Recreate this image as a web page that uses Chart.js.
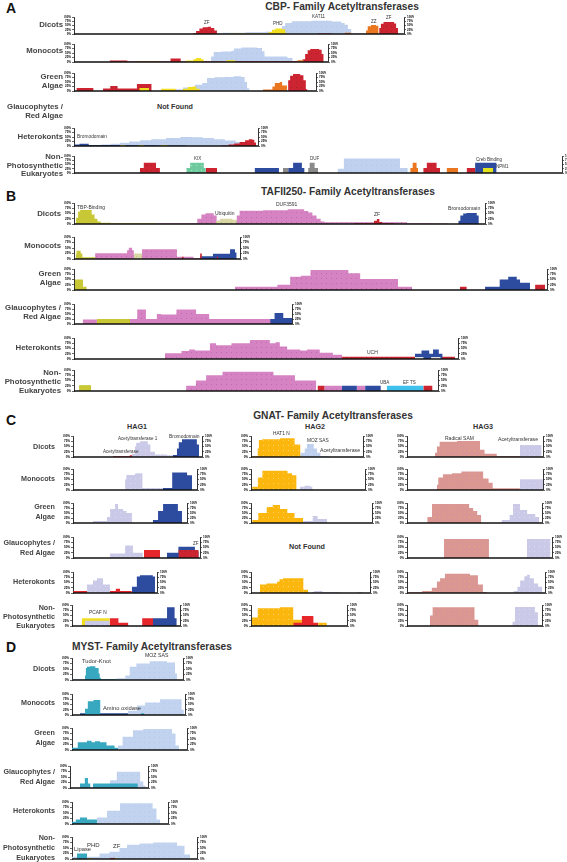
<!DOCTYPE html>
<html>
<head>
<meta charset="utf-8">
<script src="https://cdn.jsdelivr.net/npm/chart.js@4.4.1/dist/chart.umd.min.js"></script>
<style>
  body { margin: 0; background: #fff; font-family: "Liberation Sans", Arial, sans-serif; }
  #page { position: relative; width: 567px; height: 862px; overflow: hidden; }
  #page canvas { position: absolute; }
  .t { position: absolute; white-space: nowrap; line-height: 1; }
  .letter { font-size: 14px; font-weight: bold; color: #111; }
  .title { font-size: 10.2px; font-weight: bold; color: #333; }
  .sub { font-size: 7.2px; font-weight: bold; color: #333; }
  .row { font-weight: bold; color: #444; }
  .dom { color: #333; }
  .nf { font-size: 7.2px; font-weight: bold; color: #333; }
</style>
</head>
<body>
<div id="page"></div>
<script>
// categories (row labels)
const ROWS = ['Dicots', 'Monocots', 'Green|Algae', 'Glaucophytes /|Red Algae', 'Heterokonts', 'Non-|Photosynthetic|Eukaryotes'];
const Y_TICKS = [0, 25, 50, 75, 100];

// each series: [x0, y0, x1, y1, ..., xn]  (x = % of protein length, y = % coverage)
// ---- A: CBP ----
const aDicots = {
  hat: [38,5, 45,8, 52,10, 58,13, 62,20, 63,45, 64,65, 66,75, 72,78, 78,74, 81,65, 82,55, 83,30, 84,5, 89,3, 96],
  zf:  [36,5, 37,18, 38,32, 39,40, 40.5,42, 41.5,35, 42.5,20, 43.3,0, 74,3, 78,0, 92.5,35, 93,60, 93.8,70, 97,62, 97.6,35, 98.2],
  phd: [47,3, 58,3, 59,12, 60,25, 61,33, 63,28, 64,8, 64.5],
  zz:  [82,8, 84,0, 88.5,20, 89,45, 90,53, 91.5,48, 92.3]
};
const aMono = {
  hat: [0,3, 50,5, 54,30, 55,55, 58,58, 62,62, 63,75, 66,80, 72,78, 74,60, 75,30, 84,22, 86,5, 90,3, 98],
  zf:  [14,8, 21,3, 38,20, 42,3, 60,4, 90,15, 91,45, 92,65, 93,72, 96.5,68, 97.5,45, 98.3],
  zz:  [24,3, 34,0, 88,10, 90.5],
  phd: [44,8, 47,15, 48,22, 50,15, 51,0, 60,10, 63.5]
};
const aGreen = {
  hat: [38,10, 45,20, 50,35, 53,45, 55,72, 58,76, 62,78, 66,82, 69,78, 70.5,50, 71.5,15, 72.5],
  zf:  [1,17, 8,0, 12,14, 15,28, 18,14, 26,39, 32,0, 88.5,60, 89.3,85, 90.5,95, 93.5,88, 94.8,60, 95.8,10, 96.5],
  zz:  [78,8, 82,25, 83,45, 85,50, 86,30, 88],
  phd: [27,17, 31,0, 36,12, 42,0, 45,12, 47,22, 49,25, 50.5,12, 52]
};
const aHetero = {
  hat:   [2,5, 10,6, 15,8, 20,12, 25,18, 30,25, 36,32, 42,38, 50,45, 58,50, 64,48, 70,45, 76,38, 82,30, 88,22, 93,15, 97,8, 99],
  bromo: [0,8, 3,13, 8,6, 15,5, 30,4, 45,3, 61],
  phd:   [25,5, 28,0, 35,5, 38,0, 47,6, 51],
  zf:    [80,3, 84,8, 87,14, 90,22, 93,32, 95,38, 97,35, 98,20, 99]
};
const aNonPhoto = {
  hat:   [54,25, 55.3,85, 66.8,30, 68.4],
  zf:    [13.5,30, 14.3,60, 16.8,30, 17.6,0, 27,30, 29.3,0, 71.6,30, 72.3,60, 74.3,30, 75,0, 80.5,30, 82.2],
  kix:   [23,30, 23.8,60, 26.6,30, 27],
  bromo: [37,30, 42,0, 43.9,30, 44.9,60, 46.7,30, 47.2,0, 82.2,60, 86.6],
  duf:   [42.8,30, 43.9,0, 48,30, 48.3,60, 49.3,30, 50],
  zz:    [68.9,30, 69.4,60, 70.2,30, 70.5,0, 76.4,30, 78.7],
  npm:   [83.8,30, 85.9]
};
// ---- B: TAFII250 ----
const bDicots = {
  pink:  [8,3, 30,25, 31,45, 32,51, 34,40, 34.7,15, 39.6,40, 40.3,63, 46,66, 52,70, 56,62, 57,55, 58,40, 59,25, 60,12, 61,8, 81,4, 87,2, 91],
  tbp:   [0.5,30, 1,60, 1.5,67, 4.3,45, 5,25, 5.7,12, 6.5,6, 9,3, 20],
  ubq:   [34.5,15, 35.5,25, 38.5,20, 39.6],
  zf:    [68,4, 73,15, 73.7,24, 74.3,10, 75,4, 78],
  bromo: [93.5,15, 94,40, 94.7,50, 95.5,52, 98,40, 98.5]
};
const bMono = {
  pink:  [12.7,26, 32,40, 33,51, 35,40, 36,20, 41,44, 62,10, 72,5, 76],
  tbp:   [1,20, 1.5,38, 4,25, 5,8, 13],
  ubq:   [36,25, 41],
  bromo: [76,12, 83.7,24, 94,44, 97,30, 98],
  zf:    [65,10, 66,0, 76,25, 77,0, 86,10, 87]
};
const bGreen = {
  pink:  [34,15, 43,25, 45.7,63, 48,68, 50,95, 58,80, 60.5,52, 68.5,15, 71.5],
  tbp:   [0.2,50, 1.9,15, 2.7],
  zf:    [81.6,15, 83,0, 97.5,25, 99.6],
  bromo: [86.9,15, 90,50, 91.8,63, 93.6,50, 94.3,35, 96.4]
};
const bGlauco = {
  pink:  [4,23, 10.5,0, 25.7,25, 29,73, 33,25, 38,50, 40,47, 47,73, 56,50, 62,25, 92],
  tbp:   [10.5,25, 25.7],
  bromo: [90,25, 92,55, 96,30, 100]
};
const bHetero = {
  pink:  [23.7,27, 28,38, 30,45, 31.5,40, 35.4,75, 37,65, 41,75, 45.8,90, 51,75, 52.5,80, 53.6,60, 55.5,45, 58.9,40, 60.7,45, 64,30, 67.4,20, 69.8],
  zf:    [69.8,11, 99.2],
  bromo: [88.8,25, 90.5,40, 92.5,25, 93.5,45, 95,25, 96],
  uba:   [88.8,10, 91,0, 93,10, 95.5]
};
const bNonPhoto = {
  pink:  [30.8,25, 33.5,50, 36.3,75, 40.8,92, 54.8,75, 60.7,50, 66.5,0, 68.8,25, 73.6,0, 77.7,25, 80],
  tbp:   [1.4,28, 4.7],
  zf:    [66.9,25, 68.8,0, 96,25, 98.5],
  bromo: [73.6,25, 77.7,0, 80,25, 84.3],
  efts:  [85.9,25, 96]
};
// ---- C: GNAT (HAG1 / HAG2 / HAG3) ----
const c1Dicots = {
  red:   [31,3, 44,8, 47],
  lav:   [45.7,15, 48,50, 49,68, 52,75, 58,60, 60,25, 63.5,12, 72.8,8, 80.6],
  bromo: [77.5,10, 80.6,40, 82,70, 84.5,85, 96,60, 97.7]
};
const c1Mono = {
  lav:   [42,50, 43,71, 50,80, 56,10, 72.5],
  bromo: [72.5,10, 80,83, 92,70, 96]
};
const c1Green = {
  lav:   [17.5,10, 29.8,30, 32.5,70, 36.8,95, 39.5,70, 44,60, 47,50, 51.7],
  bromo: [70,15, 74.6,60, 79,95, 92,60, 95.6]
};
const c1Glauco = {
  lav:   [29,22, 41,59, 47.2,25, 55],
  red:   [55.9,38, 68.5],
  bromo: [74,25, 83,54, 96,30, 99],
  zf:    [83,38, 99]
};
const c1Hetero = {
  red:   [0,10, 28.6,0, 44,10, 51,20, 56,10, 70],
  lav:   [16.7,40, 23.8,60, 28.6,70, 35.7,40, 44],
  bromo: [70,30, 76,78, 79.7,85, 95,78, 97.6]
};
const c1NonPhoto = {
  phd:   [9,37, 35],
  lav:   [12,25, 35],
  red:   [35,37, 43,15, 52,0, 65,37, 75],
  bromo: [75,37, 88,89, 95,37, 97]
};
const c2Dicots = {
  hat1n: [1,3, 6,40, 7,81, 10,85, 26,89, 39,60, 44,10, 46],
  hat:   [44,20, 48,40, 50,62, 56,40, 59,20, 62,5, 70]
};
const c2Mono = {
  hat1n: [1,15, 6,60, 10,92, 32,80, 36,70, 40],
  lav:   [43,15, 47,20, 52,15, 54]
};
const c2Green = {
  hat1n: [1,15, 6,50, 13,80, 18,90, 24,70, 30,50, 36,25, 43],
  lav:   [43,10, 51,35, 55,20, 63]
};
const c2Hetero = {
  hat1n: [7.5,40, 13,45, 22,55, 24,65, 27,70, 44,15, 48],
  lav:   [51,5, 53,10, 60,5, 75,0, 89,5, 94]
};
const c2NonPhoto = {
  hat1n: [1,40, 7,85, 30,89, 44,30, 53,0, 70,15, 79],
  red:   [44,15, 53,48, 65,15, 70]
};
const c3Dicots = {
  rsam: [20.6,20, 22,50, 24,73, 36.8,76, 53.7,35, 57,15, 66,5, 83],
  lav:  [83,57, 99]
};
const c3Mono = {
  rsam: [22,25, 23,60, 26.5,75, 33,80, 40,88, 56,55, 60,35, 63,8, 83],
  lav:  [83,51, 100]
};
const c3Green = {
  rsam: [15,30, 18.5,95, 46,75, 49,60, 52,40, 55],
  lav:  [70,15, 76,40, 78.5,95, 83.7,65, 89,45, 95,30, 98]
};
const c3Glauco = {
  rsam: [25.5,90, 56.5],
  lav:  [82.7,90, 99]
};
const c3Hetero = {
  rsam: [0.7,3, 11,10, 18,25, 21.7,55, 24,70, 27.5,92, 45.6,85, 51.4,40, 55,5, 58],
  lav:  [77,10, 80,30, 82,60, 85,80, 87,87, 89,70, 92,45, 95,30, 98]
};
const c3NonPhoto = {
  rsam: [17,50, 19,89, 50,30, 53],
  lav:  [78,20, 80,90, 94.8,65, 97]
};
// ---- D: MYST ----
const dDicots = {
  moz:   [0,5, 40,8, 48,20, 52,60, 58,75, 70,85, 85.6,80, 92.8,30, 94.5],
  tudor: [11.7,20, 12.5,55, 13.5,60, 16,62, 21,55, 24,30, 25,10, 26,5, 27,3, 40]
};
const dMono = {
  moz:   [49.5,20, 57.5,45, 64.6,60, 77.9,75, 97,25, 99],
  amino: [7,8, 49.5],
  tudor: [11.5,30, 14,65, 19,71, 25,0, 61,8, 64]
};
const dGreen = {
  moz:   [40,20, 44,60, 53,90, 62,95, 87,75, 90,20, 93],
  tudor: [0,10, 5,35, 13,42, 17,35, 20,40, 24.3,35, 30,20, 37,10, 40]
};
const dGlauco = {
  moz:   [51,35, 60,74, 90,30, 94,10, 97],
  tudor: [12.8,20, 19,45, 23,20, 26,0, 29.5,20, 87]
};
const dHetero = {
  moz:   [26,30, 36.5,60, 50,94, 84,70, 88,20, 92],
  tudor: [0,10, 4,20, 8.3,30, 15.6,20, 26]
};
const dNonPhoto = {
  moz:   [0,10, 22,25, 30,33, 38,50, 44,65, 54,70, 65,75, 84,60, 90,20, 94.4],
  tudor: [4,25, 12],
  phd:   [13,5, 16,0, 34.4,5, 37],
  zf:    [30.4,5, 34.4]
};

// colours per domain: [base, texture dot or null]
const COLORS = {
  hat:   ['#bfd1ee', '#b2c6e8'],
  moz:   ['#c2d3ef', '#b4c7ea'],
  zf:    ['#cc2430', '#a8202a'],
  red:   ['#e6262b', null],
  phd:   ['#f1df1f', null],
  npm:   ['#e2e21e', null],
  zz:    ['#ea7620', null],
  bromo: ['#2e4c9f', null],
  amino: ['#2e4c9f', null],
  kix:   ['#6cc9a0', '#b4e6a4'],
  duf:   ['#8a8a8a', null],
  pink:  ['#d583c2', '#c06aae'],
  tbp:   ['#c8c837', null],
  ubq:   ['#d9d7a6', '#c4c28a'],
  efts:  ['#3fc1ee', null],
  uba:   ['#e4e4e4', null],
  lav:   ['#cacae8', '#d8d8f0'],
  hat1n: ['#fbb70e', '#fcd060'],
  rsam:  ['#d99693', '#dfa384'],
  tudor: ['#38a7c0', null]
};

// layout: which data goes where on the page (pixels)
const PANELS = [
  [aDicots, 74, 17, 330, 17], [aMono, 74, 44, 254, 18], [aGreen, 74, 73, 242, 18],
  [aHetero, 74, 128, 184, 18], [aNonPhoto, 74, 156, 488, 17],
  [bDicots, 74, 203, 411, 21], [bMono, 74, 237, 166, 22], [bGreen, 74, 269, 473, 21],
  [bGlauco, 74, 304, 218, 20], [bHetero, 74, 338, 384, 21], [bNonPhoto, 74, 370, 364, 21],
  [c1Dicots, 73, 436, 129, 21], [c1Mono, 73, 469, 124, 21], [c1Green, 73, 503, 114, 20],
  [c1Glauco, 73, 537, 127, 21], [c1Hetero, 73, 572, 84, 21], [c1NonPhoto, 72, 605, 108, 21],
  [c2Dicots, 251, 436, 112, 21], [c2Mono, 251, 469, 114, 21], [c2Green, 251, 503, 121, 20],
  [c2Hetero, 251, 572, 119, 21], [c2NonPhoto, 251, 605, 96, 21],
  [c3Dicots, 407, 436, 136, 21], [c3Mono, 407, 469, 136, 21], [c3Green, 407, 503, 135, 20],
  [c3Glauco, 407, 537, 145, 21], [c3Hetero, 407, 572, 138, 21], [c3NonPhoto, 407, 605, 135, 21],
  [dDicots, 72, 658, 111, 22], [dMono, 72, 694, 113, 21], [dGreen, 72, 728, 115, 22],
  [dGlauco, 70, 766, 78, 22], [dHetero, 72, 802, 96, 22], [dNonPhoto, 72, 837, 125, 22]
];

const page = document.getElementById('page');
const M = 10; // side room for the tiny % axes

function txt(s, x, y, cls, align, size) {
  const d = document.createElement('div');
  d.className = 't ' + cls;
  d.textContent = s;
  if (size) d.style.fontSize = size + 'px';
  d.style.top = y + 'px';
  if (align === 'r') { d.style.right = (567 - x) + 'px'; d.style.transform = 'translateY(-50%)'; }
  else if (align === 'c') { d.style.left = x + 'px'; d.style.transform = 'translate(-50%,-50%)'; }
  else { d.style.left = x + 'px'; d.style.transform = 'translateY(-50%)'; }
  page.appendChild(d);
}

function texture(base, dot) {
  if (!dot) return base;
  const c = document.createElement('canvas');
  c.width = 5; c.height = 5;
  const g = c.getContext('2d');
  g.fillStyle = base; g.fillRect(0, 0, 5, 5);
  g.fillStyle = dot; g.fillRect(2, 2, 1, 1);
  return g.createPattern(c, 'repeat');
}

/* step list -> outline points */
function steps(a) {
  const pts = [{ x: a[0], y: 0 }];
  for (let i = 0; i + 2 < a.length; i += 2) {
    pts.push({ x: a[i], y: a[i + 1] });
    pts.push({ x: a[i + 2], y: a[i + 1] });
  }
  pts.push({ x: a[a.length - 1], y: 0 });
  return pts;
}

const baseline = {
  id: 'baseline',
  afterDatasetsDraw(chart) {
    const { ctx, chartArea: a } = chart;
    ctx.save();
    ctx.strokeStyle = '#111';
    ctx.lineWidth = 1.6;
    ctx.beginPath();
    ctx.moveTo(a.left, a.bottom);
    ctx.lineTo(a.right, a.bottom);
    ctx.stroke();
    ctx.restore();
  }
};

function pctAxis(pos) {
  return {
    type: 'linear', position: pos, min: 0, max: 100,
    afterFit: s => { s.width = M; },
    afterBuildTicks: s => { s.ticks = Y_TICKS.map(v => ({ value: v })); },
    ticks: { autoSkip: false, padding: 1, color: '#000', font: { size: 3, weight: 'bold' }, callback: v => v + '%' },
    grid: { drawOnChartArea: false, tickLength: 2, color: '#000', lineWidth: 0.6 },
    border: { display: true, color: '#000', width: 0.8 }
  };
}

PANELS.forEach(([data, x, y, w, h]) => {
  const c = document.createElement('canvas');
  c.width = w + 2 * M; c.height = h + 6;
  c.style.left = (x - M) + 'px';
  c.style.top = (y - 3) + 'px';
  page.appendChild(c);
  const keys = Object.keys(data);
  const datasets = keys.map((k, i) => ({
    data: steps(data[k]),
    backgroundColor: texture(COLORS[k][0], COLORS[k][1]),
    borderWidth: 0, pointRadius: 0, fill: 'origin', tension: 0,
    order: keys.length - i
  }));
  new Chart(c, {
    type: 'line',
    data: { datasets },
    options: {
      responsive: false, animation: false, devicePixelRatio: 1,
      layout: { padding: { top: 3, bottom: 3, left: 0, right: 0 } },
      plugins: { legend: { display: false }, tooltip: { enabled: false } },
      scales: {
        x: { type: 'linear', min: 0, max: 100, display: false },
        y: pctAxis('left'),
        y2: pctAxis('right')
      }
    },
    plugins: [baseline]
  });
});

// panel letters and titles
txt('A', 6, 8, 'letter'); txt('CBP- Family Acetyltransferases', 342, 7, 'title', 'c');
txt('B', 6, 196, 'letter'); txt('TAFII250- Family Acetyltransferases', 348, 192, 'title', 'c');
txt('C', 6, 420, 'letter'); txt('GNAT- Family Acetyltransferases', 333, 416, 'title', 'c');
txt('D', 6, 647, 'letter'); txt('MYST- Family Acetyltransferases', 152, 647, 'title', 'c');
txt('HAG1', 137, 427, 'sub', 'c'); txt('HAG2', 315, 427, 'sub', 'c'); txt('HAG3', 483, 427, 'sub', 'c');

// row labels
function rowLabels(right, ys, size) {
  ROWS.forEach((r, i) => {
    r.split('|').forEach((line, j) => txt(line, right, ys[i][j], 'row', 'r', size));
  });
}
rowLabels(63, [[25], [51], [77, 86], [107, 116], [137], [157, 166, 174]], 7.8);
rowLabels(61, [[214], [246], [274, 283], [308, 317], [348], [373, 382, 391]], 7.8);
rowLabels(55, [[447], [479], [507, 517], [543, 553], [582], [608, 617, 626]], 7.2);
rowLabels(55, [[669], [703], [733, 743], [772, 782], [811], [838, 848, 858]], 7.2);

txt('Not Found', 175, 107, 'nf', 'c');
txt('Not Found', 307, 547, 'nf', 'c');

// domain labels
[
  ['ZF', 204, 23, 4.5], ['PHD', 273, 24, 4.5], ['KAT11', 312, 17, 4.5], ['ZZ', 371, 22, 4.5], ['ZF', 386, 18, 4.5],
  ['Bromodomain', 77, 137, 4.8], ['KIX', 194, 159, 4.5], ['DUF', 310, 159, 4.5],
  ['Creb Binding', 476, 160, 4.5], ['NPM1', 496, 167, 4.5],
  ['TBP-Binding', 77, 207, 5], ['Ubiquitin', 215, 213, 5], ['DUF3591', 276, 204, 5], ['ZF', 374, 214, 5],
  ['Bromodomain', 448, 209, 5.2], ['UCH', 367, 352, 5], ['UBA', 380, 383, 4.5], ['EF TS', 403, 383, 4.5],
  ['Acetyltransferase 1', 118, 439, 4.6], ['Bromodomain', 169, 437, 4.9], ['Acetyltransferase', 103, 452, 4.6],
  ['ZF', 193, 544, 4.5], ['PCAF N', 89, 613, 4.8], ['HAT1 N', 273, 434, 4.8], ['MOZ SAS', 307, 441, 4.8],
  ['Acetyltransferase', 320, 451, 5.2], ['Radical SAM', 445, 438, 5], ['Acetyltransferase', 498, 440, 5.2],
  ['Tudor-Knot', 82, 662, 5.8], ['MOZ SAS', 145, 656, 5.2], ['Amino oxidase', 103, 709, 5.8],
  ['Lipase', 74, 850, 5.8], ['PHD', 87, 845, 6], ['ZF', 113, 846, 6]
].forEach(([s, x, y, size]) => txt(s, x, y, 'dom', 'l', size));
</script>
</body>
</html>
